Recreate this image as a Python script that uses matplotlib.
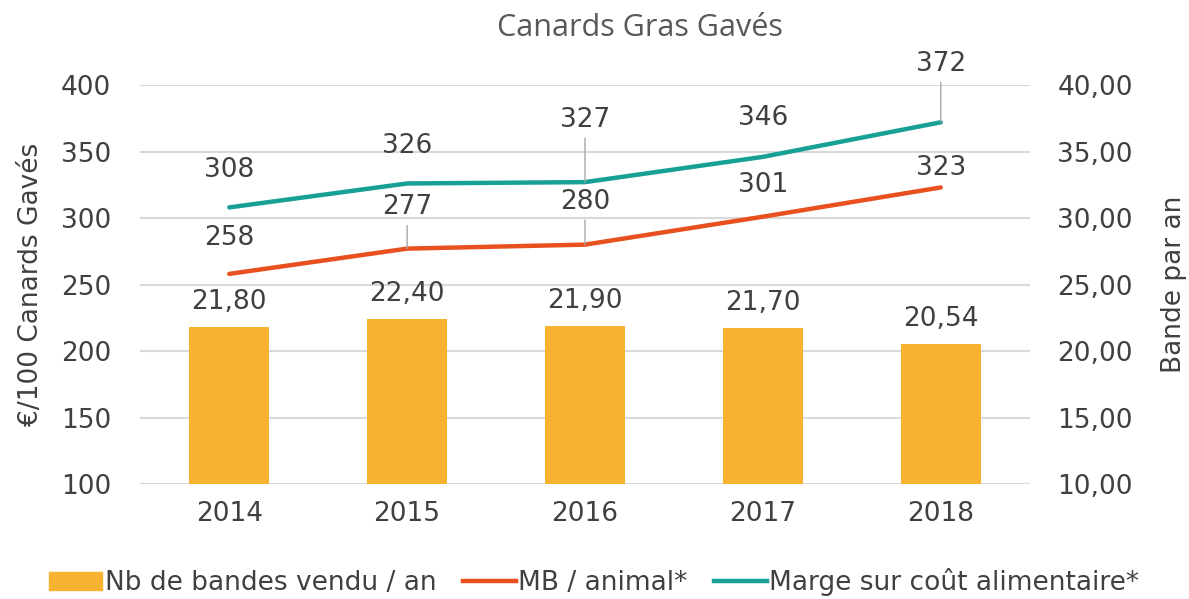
import matplotlib.pyplot as plt
import numpy as np
from matplotlib.patches import Patch
from matplotlib.lines import Line2D

annees = ['2014', '2015', '2016', '2017', '2018']
bandes = [21.80, 22.40, 21.90, 21.70, 20.54]
mb = [258, 277, 280, 301, 323]
marge = [308, 326, 327, 346, 372]

# decalages des etiquettes (points) et traits de rappel
dy_mb = [26, 30, 31, 23, 14]
lead_mb = [False, True, True, False, False]
dy_marge = [27, 27, 45, 28, 42]
lead_marge = [False, False, True, False, True]

orange_bar = '#F7B232'
orange_line = '#E8501F'
teal = '#17A096'
gris_txt = '#404040'
gris_grid = '#D9D9D9'
fs = 19

plt.rcParams['font.family'] = ['DejaVu Sans']

fig = plt.figure(figsize=(11.89, 5.99), dpi=100)
ax2 = fig.add_axes([0.118, 0.192, 0.748, 0.666])
ax = ax2.twinx()

x = np.arange(len(annees))

# barres sur l'axe de droite
ax2.bar(x, np.array(bandes) - 10, bottom=10, width=0.45, color=orange_bar, zorder=2)
ax2.set_ylim(10, 40)
ticks_d = np.arange(10, 41, 5)
ax2.set_yticks(ticks_d)
ax2.set_yticklabels([f'{v:.2f}'.replace('.', ',') for v in ticks_d])
for xi, b in zip(x, bandes):
    ax2.annotate(f'{b:.2f}'.replace('.', ','), (xi, b), xytext=(0, 18),
                 textcoords='offset points', ha='center', va='center',
                 fontsize=fs, color=gris_txt)

# lignes sur l'axe de gauche
ax.plot(x, mb, color=orange_line, lw=3.2, solid_capstyle='round', zorder=3)
ax.plot(x, marge, color=teal, lw=3.2, solid_capstyle='round', zorder=3)
ax.set_ylim(100, 400)
ax.set_yticks(np.arange(100, 401, 50))

for serie, dys, leads in [(mb, dy_mb, lead_mb), (marge, dy_marge, lead_marge)]:
    for xi, v, dy, ld in zip(x, serie, dys, leads):
        props = dict(arrowstyle='-', color='#A6A6A6', lw=1, shrinkA=2, shrinkB=0) if ld else None
        ax.annotate(str(v), (xi, v), xytext=(0, dy), textcoords='offset points',
                    ha='center', va='center', fontsize=fs, color=gris_txt,
                    arrowprops=props)

# lignes a gauche, barres a droite
ax.yaxis.tick_left()
ax.yaxis.set_label_position('left')
ax2.yaxis.tick_right()
ax2.yaxis.set_label_position('right')

ax2.set_xlim(-0.5, 4.5)
ax2.set_xticks(x)
ax2.set_xticklabels(annees)
ax2.yaxis.grid(True, color=gris_grid, lw=1.5, zorder=0)
ax2.set_axisbelow(True)

for a in (ax, ax2):
    for s in a.spines.values():
        s.set_visible(False)
    a.tick_params(length=0, labelsize=fs, labelcolor=gris_txt, pad=20)
ax.tick_params(axis='y', pad=21)
ax2.tick_params(axis='x', pad=12)

ax.set_ylabel('€/100 Canards Gavés', fontsize=fs, color=gris_txt, labelpad=12)
ax2.set_ylabel('Bande par an', fontsize=fs, color=gris_txt, labelpad=20)

fig.text(0.538, 0.953, 'Canards Gras Gavés', ha='center', va='center',
         fontsize=22, color='#595959', family=['Open Sans', 'DejaVu Sans'])

handles = [Patch(color=orange_bar),
           Line2D([], [], color=orange_line, lw=3.2),
           Line2D([], [], color=teal, lw=3.2)]
labels = ['Nb de bandes vendu / an', 'MB / animal*', 'Marge sur coût alimentaire*']
fig.legend(handles, labels, loc='center', bbox_to_anchor=(0.5, 0.028), ncol=3,
           frameon=False, fontsize=fs, handlelength=2.0, handletextpad=0.1,
           columnspacing=1.0, labelcolor=gris_txt)

fig.savefig('out.png', dpi=100)
